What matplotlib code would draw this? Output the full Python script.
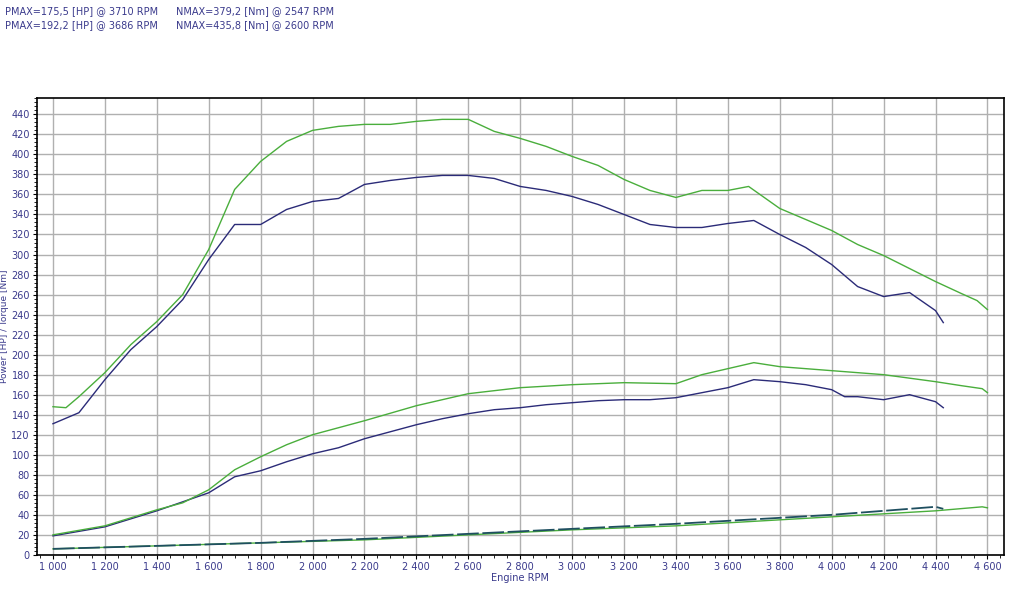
import matplotlib
matplotlib.use("Agg")
import matplotlib.pyplot as plt
from matplotlib.ticker import MultipleLocator, FuncFormatter

bt_x = [1000,1100,1200,1300,1400,1500,1600,1700,1800,1900,2000,2100,2200,2300,2400,2500,2600,2700,2800,2900,3000,3100,3200,3300,3400,3500,3600,3700,3800,3900,4000,4100,4200,4300,4400,4430]
bt_y = [131,142,175,205,228,255,295,330,330,345,353,356,370,374,377,379,379,376,368,364,358,350,340,330,327,327,331,334,320,307,290,268,258,262,244,232]
gt_x = [1000,1050,1100,1200,1300,1400,1500,1600,1700,1800,1900,2000,2100,2200,2300,2400,2500,2600,2700,2800,2900,3000,3100,3200,3300,3400,3500,3600,3680,3800,3900,4000,4100,4200,4300,4400,4500,4560,4600]
gt_y = [148,147,158,182,210,233,260,305,365,393,413,424,428,430,430,433,435,435,423,416,408,398,389,375,364,357,364,364,368,346,335,324,310,299,286,273,261,254,245]
bp_x = [1000,1200,1400,1600,1700,1800,1900,2000,2100,2200,2300,2400,2500,2600,2700,2800,2900,3000,3100,3200,3300,3400,3500,3600,3700,3800,3900,4000,4050,4100,4200,4300,4400,4430]
bp_y = [19,28,44,62,78,84,93,101,107,116,123,130,136,141,145,147,150,152,154,155,155,157,162,167,175,173,170,165,158,158,155,160,153,147]
gp_x = [1000,1200,1400,1500,1600,1700,1800,1900,2000,2200,2400,2600,2800,3000,3200,3400,3500,3600,3700,3800,4000,4200,4400,4500,4580,4600]
gp_y = [20,29,45,52,65,85,98,110,120,134,149,161,167,170,172,171,180,186,192,188,184,180,173,169,166,162]
bl_x = [1000,1400,1800,2200,2600,3000,3400,3800,4000,4200,4400,4430]
bl_y = [6,9,12,16,21,26,31,37,40,44,48,46]
gl_x = [1000,1400,1800,2200,2600,3000,3400,3800,4000,4200,4400,4580,4600]
gl_y = [6,9,12,15,20,25,29,35,38,41,44,48,47]
header = ["PMAX=175,5 [HP] @ 3710 RPM", "NMAX=379,2 [Nm] @ 2547 RPM",
          "PMAX=192,2 [HP] @ 3686 RPM", "NMAX=435,8 [Nm] @ 2600 RPM"]

BLUE = "#2b2b78"; GREEN = "#4aae3c"; TXT = "#3a3a8c"
fig = plt.figure(figsize=(10.24, 5.96), dpi=100)
ax = fig.add_axes([0.036, 0.069, 0.944, 0.766])
for x, y, c in [(bt_x, bt_y, BLUE), (gt_x, gt_y, GREEN), (bp_x, bp_y, BLUE),
                (gp_x, gp_y, GREEN), (gl_x, gl_y, GREEN)]:
    ax.plot(x, y, color=c, lw=1)
ax.plot(bl_x, bl_y, color="#1f4f60", lw=1.3, dashes=(12, 2))
ax.set_xlim(938, 4662); ax.set_ylim(0, 456)
ax.xaxis.set_major_locator(MultipleLocator(200)); ax.xaxis.set_minor_locator(MultipleLocator(50))
ax.yaxis.set_major_locator(MultipleLocator(20)); ax.yaxis.set_minor_locator(MultipleLocator(4))
ax.xaxis.set_major_formatter(FuncFormatter(lambda v, p: f"{int(v):,}".replace(",", " ")))
ax.grid(True, which="major", color="#b0b0b0", lw=1)
ax.tick_params(labelsize=7, colors="black", labelcolor=TXT, length=3, pad=2)
ax.tick_params(which="minor", length=2)
ax.set_xlabel("Engine RPM", fontsize=7, color=TXT, labelpad=1)
ax.set_ylabel("Power [HP] / Torque [Nm]", fontsize=6.5, color=TXT)
ax.yaxis.set_label_coords(-0.029, 0.5)
for s in ax.spines.values(): s.set_linewidth(1.2)
fs = 7
fig.text(0.005, 0.982, header[0], fontsize=fs, color=TXT, va="center")
fig.text(0.172, 0.982, header[1], fontsize=fs, color=TXT, va="center")
fig.text(0.005, 0.958, header[2], fontsize=fs, color=TXT, va="center")
fig.text(0.172, 0.958, header[3], fontsize=fs, color=TXT, va="center")
fig.savefig("out.png", dpi=100)
